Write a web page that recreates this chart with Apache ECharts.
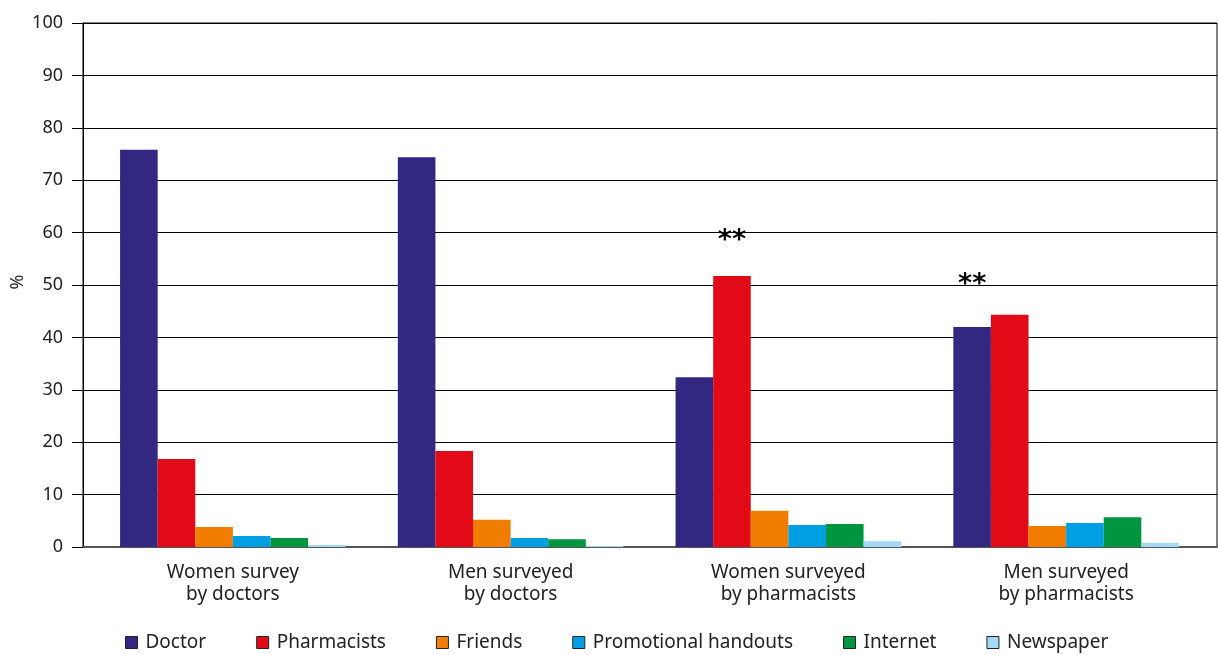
<!DOCTYPE html>
<html>
<head>
<meta charset="utf-8">
<script src="https://cdn.jsdelivr.net/npm/echarts@6/dist/echarts.min.js"></script>
<style>
  html, body { margin: 0; padding: 0; background: #fff; }
  #chart { width: 1218px; height: 655px; }
</style>
</head>
<body>
<div id="chart"></div>
<script>
// groups on the x axis
var categories = ['Women survey\nby doctors', 'Men surveyed\nby doctors', 'Women surveyed\nby pharmacists', 'Men surveyed\nby pharmacists'];
var yTicks = [0, 10, 20, 30, 40, 50, 60, 70, 80, 90, 100];

var doctor = [75.8, 74.4, 32.4, 42.0];
var pharmacists = [16.8, 18.3, 51.7, 44.3];
var friends = [3.8, 5.2, 6.9, 4.0];
var promotional = [2.1, 1.7, 4.2, 4.6];
var internet = [1.7, 1.5, 4.4, 5.7];
var newspaper = [0.4, 0.2, 1.1, 0.8];

// where the "**" marks go: [series name, category index, label distance]
var starMarks = [['Pharmacists', 2, 22], ['Doctor', 3, 28]];

var colors = {
  'Doctor': '#322882',
  'Pharmacists': '#e20a16',
  'Friends': '#f07d00',
  'Promotional handouts': '#009fe3',
  'Internet': '#009640',
  'Newspaper': '#a2d9f7'
};

function makeSeries(name, values) {
  var data = values.map(function (v, i) {
    var mark = starMarks.filter(function (m) { return m[0] === name && m[1] === i; })[0];
    if (!mark) return v;
    return {
      value: v,
      label: {
        show: true,
        position: 'top',
        formatter: '**',
        fontSize: 27,
        fontWeight: 'bold',
        color: '#000',
        distance: mark[2],
        fontFamily: 'DejaVu Sans'
      }
    };
  });
  return {
    name: name,
    type: 'bar',
    xAxisIndex: 1,
    yAxisIndex: 1,
    barWidth: 37.6,
    barGap: '0%',
    itemStyle: { color: colors[name] },
    data: data
  };
}

var chart = echarts.init(document.getElementById('chart'));
var option = {
  animation: false,
  textStyle: { fontFamily: 'Noto Sans' },
  grid: [
    // frame, y axis and grid lines
    { left: 83, right: 1, top: 23, bottom: 108, show: true, borderColor: '#000', borderWidth: 1, outerBoundsMode: 'none', containLabel: false },
    // bars
    { left: 94, right: 13, top: 23, bottom: 108, outerBoundsMode: 'none', containLabel: false }
  ],
  // y axis title
  graphic: [{
    type: 'text',
    x: 18,
    y: 282,
    rotation: Math.PI / 2,
    style: { text: '%', fontSize: 18, fill: '#222', fontFamily: 'Noto Sans', align: 'center', verticalAlign: 'middle' }
  }],
  legend: {
    top: 628,
    left: 120,
    itemWidth: 12,
    itemHeight: 12,
    itemGap: 50,
    icon: 'rect',
    itemStyle: { borderColor: '#222', borderWidth: 1 },
    textStyle: { fontSize: 19, color: '#222', fontFamily: 'Noto Sans', padding: [0, 0, 0, 3] },
    data: ['Doctor', 'Pharmacists', 'Friends', 'Promotional handouts', 'Internet', 'Newspaper']
  },
  xAxis: [
    {
      type: 'category',
      gridIndex: 0,
      data: categories,
      axisTick: { show: false },
      axisLabel: { show: false },
      axisLine: { lineStyle: { color: '#555', width: 2 } }
    },
    {
      type: 'category',
      gridIndex: 1,
      data: categories,
      axisTick: { show: false },
      axisLine: { show: false },
      axisLabel: { fontSize: 19, color: '#222', lineHeight: 22, margin: 15 }
    }
  ],
  yAxis: [
    {
      type: 'value',
      gridIndex: 0,
      min: 0,
      max: 100,
      interval: 10,
      axisLine: { show: true, lineStyle: { color: '#000', width: 1 } },
      axisTick: { show: true, length: 11, lineStyle: { color: '#000' } },
      axisLabel: {
        fontSize: 18, color: '#222', margin: 20,
        formatter: function (v) { return yTicks.indexOf(v) >= 0 ? String(v) : ''; }
      },
      splitLine: { lineStyle: { color: '#000', width: 1.2 } }
    },
    {
      type: 'value',
      gridIndex: 1,
      min: 0,
      max: 100,
      interval: 10,
      show: false
    }
  ],
  series: [
    makeSeries('Doctor', doctor),
    makeSeries('Pharmacists', pharmacists),
    makeSeries('Friends', friends),
    makeSeries('Promotional handouts', promotional),
    makeSeries('Internet', internet),
    makeSeries('Newspaper', newspaper)
  ]
};
chart.setOption(option);
</script>
</body>
</html>
